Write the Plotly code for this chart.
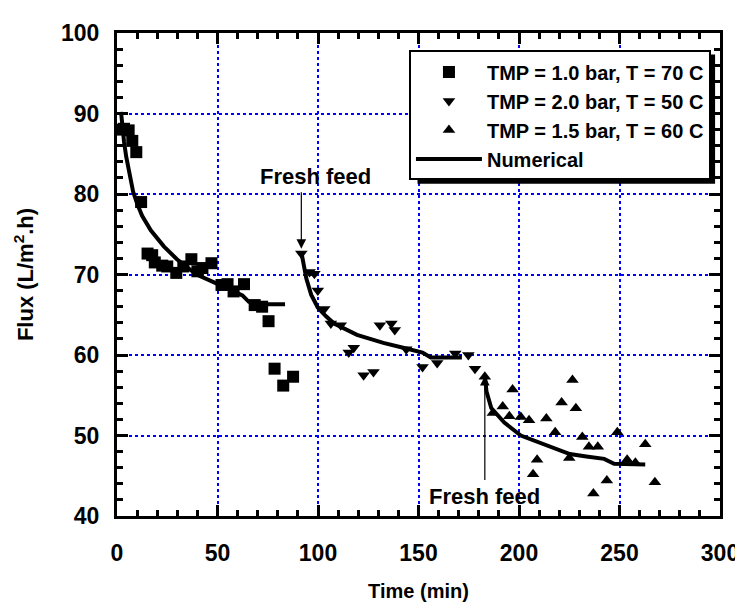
import plotly.graph_objects as go

# TMP = 1.0 bar, T = 70 C
sq_x = [1.2, 3.5, 5.8, 7.6, 9.6, 12.0, 15.2, 17.5, 18.8, 22.5, 25.0, 29.5, 33.0, 37.0, 40.0,
        42.5, 47.0, 52.0, 55.0, 58.0, 63.2, 68.5, 72.2, 75.4, 78.4, 82.7, 87.6]
sq_y = [88.0, 88.1, 87.9, 86.6, 85.2, 79.0, 72.6, 72.4, 71.5, 71.1, 71.0, 70.2, 71.0, 71.9, 70.4,
        70.8, 71.4, 68.7, 68.8, 67.9, 68.8, 66.2, 66.0, 64.2, 58.3, 56.2, 57.3]

# TMP = 2.0 bar, T = 50 C
dn_x = [91.7, 95.8, 98.2, 99.9, 103.1, 106.4, 111.3, 115.3, 117.8, 122.7, 127.6, 130.8, 136.5,
        138.2, 143.9, 152.0, 159.3, 168.3, 174.8, 178.1]
dn_y = [72.6, 70.3, 70.1, 68.0, 65.7, 63.9, 63.7, 60.3, 60.9, 57.5, 57.9, 63.7, 63.9,
        63.1, 60.7, 58.5, 59.0, 60.2, 60.0, 58.3]

# TMP = 1.5 bar, T = 60 C
up_x = [183.0, 187.0, 191.9, 195.2, 196.8, 200.9, 205.0, 207.0, 209.0, 213.6, 218.0, 221.2, 225.0,
        226.6, 228.3, 231.5, 234.8, 237.0, 239.2, 243.7, 248.9, 253.8, 257.9, 262.8, 267.6]
up_y = [57.3, 52.8, 53.6, 52.4, 55.7, 52.3, 51.9, 45.2, 47.0, 52.1, 50.4, 54.1, 47.2,
        56.9, 53.4, 49.8, 48.6, 42.8, 48.6, 44.4, 50.4, 47.0, 46.6, 48.9, 44.2]

# Numerical model, one piece per feed
num1_x = [2.0, 2.6, 3.5, 4.6, 6.2, 8.0, 10.0, 12.5, 16.8, 23.3, 29.8, 39.6, 49.4, 59.1, 62.4, 65.6, 68.9, 83.6]
num1_y = [90.2, 88.5, 86.5, 84.6, 82.3, 80.3, 78.8, 77.3, 75.5, 73.5, 71.9, 70.0, 68.9, 67.7, 67.4, 66.6, 66.3, 66.3]
num2_x = [91.7, 92.5, 94.2, 96.6, 99.9, 104.0, 108.0, 119.4, 132.5, 143.9, 152.0, 156.1, 171.6]
num2_y = [72.8, 71.9, 69.5, 67.5, 65.9, 64.8, 63.9, 62.5, 61.5, 60.8, 60.3, 59.7, 59.7]
num3_x = [183.0, 183.8, 186.2, 192.7, 200.9, 209.0, 217.1, 225.3, 233.5, 242.4, 247.3, 262.8]
num3_y = [57.5, 55.5, 53.4, 51.6, 50.0, 49.2, 48.4, 47.7, 47.4, 47.1, 46.5, 46.4]

num_x = num1_x + [None] + num2_x + [None] + num3_x
num_y = num1_y + [None] + num2_y + [None] + num3_y

FONT = "Liberation Sans, Arial, sans-serif"

fig = go.Figure()
fig.add_trace(go.Scatter(x=sq_x, y=sq_y, mode='markers', name='TMP = 1.0 bar, T = 70 C',
                         marker=dict(symbol='square', size=12, color='black')))
fig.add_trace(go.Scatter(x=dn_x, y=dn_y, mode='markers', name='TMP = 2.0 bar, T = 50 C',
                         marker=dict(symbol='triangle-down', size=11, color='black')))
fig.add_trace(go.Scatter(x=up_x, y=up_y, mode='markers', name='TMP = 1.5 bar, T = 60 C',
                         marker=dict(symbol='triangle-up', size=11, color='black')))
fig.add_trace(go.Scatter(x=num_x, y=num_y, mode='lines', name='Numerical',
                         line=dict(color='black', width=4), connectgaps=False))

# "Fresh feed" arrows and labels
for tx, ty, x0, y0, x1, y1 in [(99.0, 82.2, 91.7, 80.4, 91.7, 73.2),
                               (183.0, 42.4, 183.0, 44.3, 183.0, 57.4)]:
    fig.add_annotation(x=tx, y=ty, text="Fresh feed", showarrow=False,
                       font=dict(family=FONT, size=22, color='black', weight='bold'))
    fig.add_annotation(x=x1, y=y1, ax=x0, ay=y0, axref='x', ayref='y', text="",
                       showarrow=True, arrowhead=2, arrowsize=1.6, arrowwidth=1.2, arrowcolor='black')

# drop shadow behind the legend box
fig.add_shape(type='rect', xref='paper', yref='paper',
              x0=(415 - 109) / 614, x1=(718 - 109) / 614,
              y0=(518 - 176) / 497, y1=(518 - 43) / 497,
              fillcolor='black', line=dict(width=0), layer='above')

axis_common = dict(showline=True, linecolor='black', linewidth=3, mirror='ticks',
                   ticks='inside', ticklen=11, tickwidth=2.5, tickcolor='black',
                   showgrid=True, gridcolor='blue', gridwidth=1.5, griddash='dot',
                   zeroline=False,
                   tickfont=dict(family=FONT, size=23, color='black', weight='bold'))

fig.update_xaxes(range=[0, 300], dtick=50, tick0=0,
                 minor=dict(dtick=10, ticks='inside', ticklen=6, tickwidth=2.5, tickcolor='black', showgrid=False),
                 ticklabelstandoff=14,
                 title=dict(text='Time (min)', standoff=20,
                            font=dict(family=FONT, size=20, color='black', weight='bold')),
                 **axis_common)
fig.update_yaxes(range=[40, 100], dtick=10, tick0=40,
                 minor=dict(dtick=2, ticks='inside', ticklen=6, tickwidth=2.5, tickcolor='black', showgrid=False),
                 ticklabelstandoff=10,
                 title=dict(text='Flux (L/m<sup>2</sup>.h)', standoff=22,
                            font=dict(family=FONT, size=22, color='black', weight='bold')),
                 **axis_common)

fig.update_layout(
    width=743, height=604,
    margin=dict(l=109, r=20, t=21, b=86),
    plot_bgcolor='white', paper_bgcolor='white',
    font=dict(family=FONT, color='black'),
    legend=dict(x=0.985, xanchor='right', y=0.964, yanchor='top',
                bgcolor='white', bordercolor='black', borderwidth=2,
                itemwidth=66, tracegroupgap=0,
                font=dict(family=FONT, size=20, color='black', weight='bold')),
)

fig.write_html("out.html")
